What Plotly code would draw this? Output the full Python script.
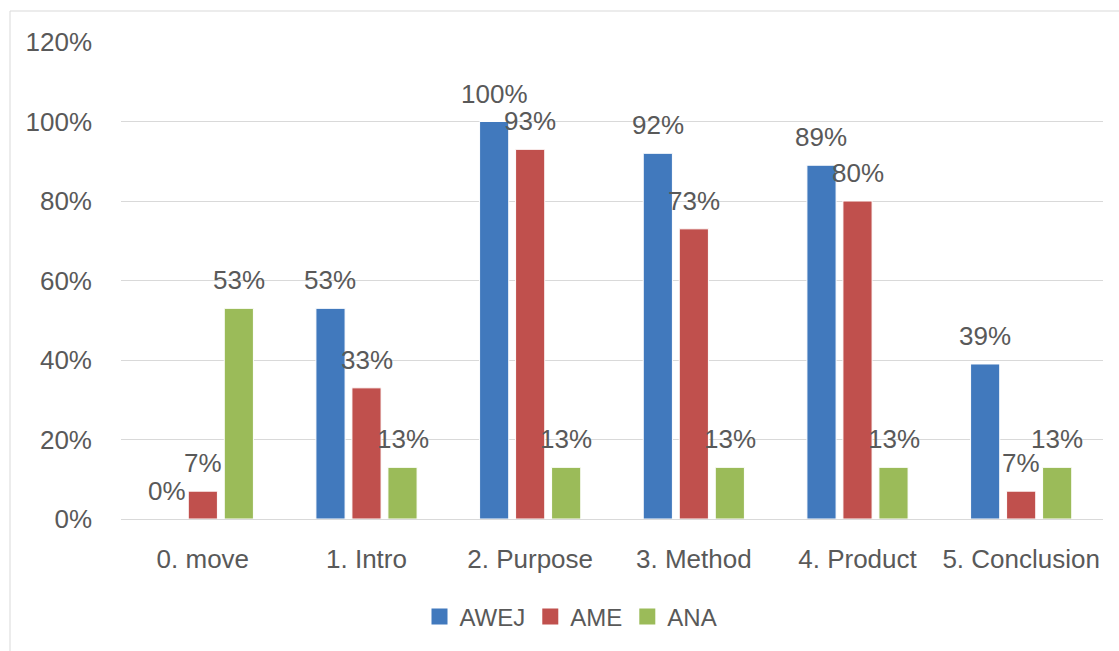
import plotly.graph_objects as go

categories = ["0. move", "1. Intro", "2. Purpose", "3. Method", "4. Product", "5. Conclusion"]
awej = [0, 53, 100, 92, 89, 39]
ame = [7, 33, 93, 73, 80, 7]
ana = [53, 13, 13, 13, 13, 13]
series_names = ["AWEJ", "AME", "ANA"]
series_values = [awej, ame, ana]
series_colors = ["#4179BD", "#C0504D", "#9BBB59"]
y_ticks = [0, 0.2, 0.4, 0.6, 0.8, 1.0, 1.2]

W, H = 1119, 651
ML, MR, MT, MB = 121, 16, 42, 132
BARGAP = 0.34
BARGROUPGAP = 0.19
TEXT = "#595959"
FONT = "Liberation Sans, Arial, sans-serif"

fig = go.Figure()
for name, vals, col in zip(series_names, series_values, series_colors):
    fig.add_trace(go.Bar(
        x=categories, y=[v / 100 for v in vals], name=name,
        marker=dict(color=col, line=dict(color="white", width=1)),
        showlegend=False,
    ))
    fig.add_trace(go.Scatter(
        x=[categories[0]], y=[None], mode="markers", name=name,
        marker=dict(symbol="square", size=16, color=col),
        showlegend=True, hoverinfo="skip",
    ))

plot_w = W - ML - MR
slot = plot_w / len(categories) * (1 - BARGAP) / len(series_names)
for i, (name, vals) in enumerate(zip(series_names, series_values)):
    shift = (i - (len(series_names) - 1) / 2) * slot
    for c, v in zip(categories, vals):
        fig.add_annotation(
            x=c, y=v / 100, text=f"{v}%", showarrow=False,
            xshift=shift, yshift=28, yanchor="middle", xanchor="center",
            font=dict(family=FONT, size=26, color=TEXT),
        )

fig.add_shape(type="rect", xref="paper", yref="paper",
              x0=(10 - ML) / plot_w, x1=(W + 20 - ML) / plot_w,
              y0=-(H + 20 - (H - MB)) / (H - MT - MB), y1=1 + (MT - 11) / (H - MT - MB),
              line=dict(color="#D9D9D9", width=1), fillcolor="rgba(0,0,0,0)", layer="below")

fig.update_layout(
    width=W, height=H,
    margin=dict(l=ML, r=MR, t=MT, b=MB, autoexpand=False),
    paper_bgcolor="white", plot_bgcolor="white",
    barmode="group", bargap=BARGAP, bargroupgap=BARGROUPGAP,
    font=dict(family=FONT, color=TEXT),
    legend=dict(orientation="h", x=(571 - ML) / plot_w, xanchor="center",
                y=-(617 - (H - MB)) / (H - MT - MB), yanchor="middle",
                font=dict(family=FONT, size=24, color=TEXT),
                bgcolor="rgba(0,0,0,0)", itemclick=False),
    showlegend=True,
)
fig.update_xaxes(showgrid=False, showline=False, zeroline=False, ticks="",
                 tickfont=dict(family=FONT, size=26, color=TEXT), ticklabelstandoff=22)
fig.update_yaxes(range=[0, 1.2], tickvals=y_ticks, tickformat=".0%",
                 showgrid=True, gridcolor="#D9D9D9", gridwidth=1.3,
                 zeroline=True, zerolinecolor="#D9D9D9", zerolinewidth=1.3,
                 showline=False, ticks="", ticklabelstandoff=28,
                 tickfont=dict(family=FONT, size=26, color=TEXT))

fig.write_html("out.html")
